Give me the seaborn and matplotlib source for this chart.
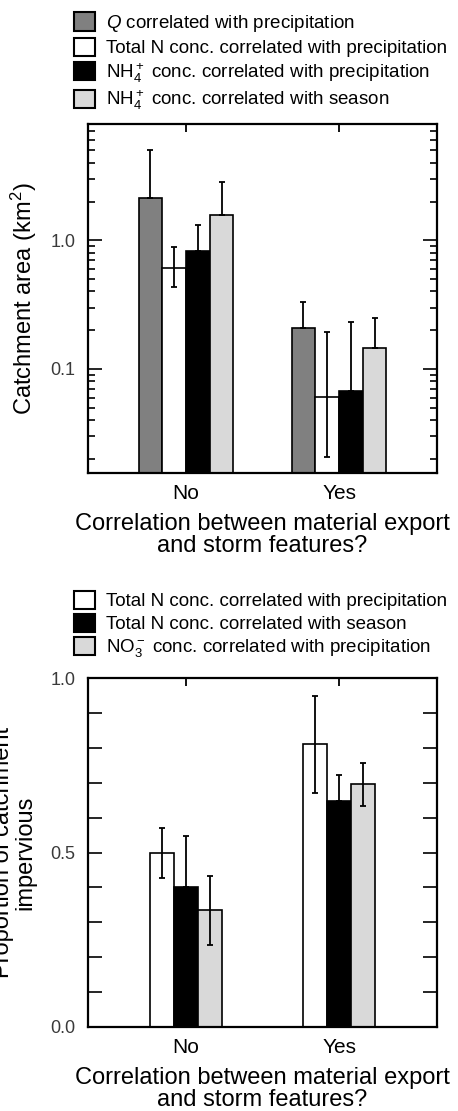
import numpy as np
import pandas as pd
import matplotlib
matplotlib.use("Agg")
import matplotlib.pyplot as plt
from matplotlib.patches import Patch
from matplotlib.ticker import FixedLocator, FixedFormatter, LogLocator, NullFormatter, MultipleLocator
import seaborn as sns

# ---------------------------------------------------------------- data
groups = ["No", "Yes"]

# Panel A: catchment area (km²) – bar value, whisker low end, whisker high end
area_labels = [
    r"$Q$ correlated with precipitation",
    "Total N conc. correlated with precipitation",
    r"NH$_4^+$ conc. correlated with precipitation",
    r"NH$_4^+$ conc. correlated with season",
]
area_q = [2.12, 0.208]
area_q_lo = [2.12, 0.208]
area_q_hi = [5.0, 0.334]

area_tn = [0.613, 0.061]
area_tn_lo = [0.43, 0.0206]
area_tn_hi = [0.89, 0.194]

area_nh4_precip = [0.82, 0.067]
area_nh4_precip_lo = [0.82, 0.067]
area_nh4_precip_hi = [1.31, 0.23]

area_nh4_season = [1.58, 0.146]
area_nh4_season_lo = [1.58, 0.146]
area_nh4_season_hi = [2.85, 0.248]

area_colors = ["#808080", "#ffffff", "#000000", "#d9d9d9"]

# Panel B: proportion of catchment impervious
imperv_labels = [
    "Total N conc. correlated with precipitation",
    "Total N conc. correlated with season",
    r"NO$_3^-$ conc. correlated with precipitation",
]
imperv_tn_precip = [0.50, 0.811]
imperv_tn_precip_lo = [0.426, 0.67]
imperv_tn_precip_hi = [0.569, 0.949]

imperv_tn_season = [0.40, 0.648]
imperv_tn_season_lo = [0.40, 0.648]
imperv_tn_season_hi = [0.547, 0.722]

imperv_no3_precip = [0.335, 0.697]
imperv_no3_precip_lo = [0.234, 0.633]
imperv_no3_precip_hi = [0.433, 0.758]

imperv_colors = ["#ffffff", "#000000", "#d9d9d9"]

xlabel_text = "Correlation between material export\nand storm features?"

# ---------------------------------------------------------------- style
sns.set_style("ticks")
plt.rcParams["font.family"] = ["Liberation Sans", "DejaVu Sans"]
plt.rcParams["text.color"] = "black"
plt.rcParams["axes.labelcolor"] = "black"
plt.rcParams["mathtext.fontset"] = "custom"
plt.rcParams["mathtext.rm"] = "Liberation Sans"
plt.rcParams["mathtext.it"] = "Liberation Sans:italic"
plt.rcParams["mathtext.bf"] = "Liberation Sans:bold"

W, H = 458, 1111
fig = plt.figure(figsize=(W / 100, H / 100), dpi=100)

def px_axes(left, top, right, bottom):
    return fig.add_axes([left / W, 1 - bottom / H, (right - left) / W, (bottom - top) / H])

ax_top = px_axes(88, 124, 437, 472.5)
ax_bot = px_axes(88, 678.3, 437, 1026.7)


def long_frame(labels, series):
    rows = []
    for lab, vals in zip(labels, series):
        for g, v in zip(groups, vals):
            rows.append({"group": g, "series": lab, "value": v})
    return pd.DataFrame(rows)


def draw_bars(ax, labels, series, lows, highs, colors, width):
    df = long_frame(labels, series)
    sns.barplot(data=df, x="group", y="value", hue="series", order=groups,
                hue_order=labels, palette=colors, width=width, errorbar=None,
                edgecolor="black", linewidth=1.2, saturation=1, legend=False, ax=ax)
    for cont, lo, hi in zip(ax.containers, lows, highs):
        for bar, l, h in zip(cont, lo, hi):
            x = bar.get_x() + bar.get_width() / 2
            y = bar.get_height()
            ax.errorbar(x, y, yerr=[[y - l], [h - y]], fmt="none", ecolor="black",
                        elinewidth=1.3, capsize=2.0, capthick=1.3, zorder=5)


def style_axes(ax):
    for s in ax.spines.values():
        s.set_visible(True)
        s.set_linewidth(1.6)
        s.set_color("black")
    ax.set_xlim(-0.64, 1.64)
    ax.tick_params(axis="x", which="both", direction="in", top=True, bottom=False,
                   length=6, width=1.3, labelsize=15, pad=8, colors="black")
    ax.tick_params(axis="y", which="both", direction="in", left=True, right=True,
                   width=1.2, labelsize=13, pad=9, color="black", labelcolor="#3a3a3a")
    ax.set_xlabel(xlabel_text, fontsize=17, linespacing=1.0, va="center", color="black")
    ax.xaxis.set_label_coords(0.5, -0.180)


# ---------------------------------------------------------------- panel A
draw_bars(ax_top, area_labels,
          [area_q, area_tn, area_nh4_precip, area_nh4_season],
          [area_q_lo, area_tn_lo, area_nh4_precip_lo, area_nh4_season_lo],
          [area_q_hi, area_tn_hi, area_nh4_precip_hi, area_nh4_season_hi],
          area_colors, 0.62)
ax_top.set_yscale("log")
ax_top.set_ylim(0.0157, 8)
ax_top.yaxis.set_major_locator(FixedLocator([0.1, 1.0]))
ax_top.yaxis.set_major_formatter(FixedFormatter(["0.1", "1.0"]))
ax_top.yaxis.set_minor_locator(LogLocator(base=10, subs=np.arange(2, 10)))
ax_top.yaxis.set_minor_formatter(NullFormatter())
style_axes(ax_top)
ax_top.tick_params(axis="y", which="major", length=10)
ax_top.tick_params(axis="y", which="minor", length=5)
ax_top.set_ylabel("Catchment area (km$^2$)", fontsize=17, va="center", color="black")
ax_top.yaxis.set_label_coords(-0.183, 0.5)

# ---------------------------------------------------------------- panel B
draw_bars(ax_bot, imperv_labels,
          [imperv_tn_precip, imperv_tn_season, imperv_no3_precip],
          [imperv_tn_precip_lo, imperv_tn_season_lo, imperv_no3_precip_lo],
          [imperv_tn_precip_hi, imperv_tn_season_hi, imperv_no3_precip_hi],
          imperv_colors, 0.47)
ax_bot.set_ylim(0, 1.0)
ax_bot.yaxis.set_major_locator(FixedLocator([0.0, 0.5, 1.0]))
ax_bot.yaxis.set_major_formatter(FixedFormatter(["0.0", "0.5", "1.0"]))
ax_bot.yaxis.set_minor_locator(MultipleLocator(0.1))
style_axes(ax_bot)
ax_bot.tick_params(axis="y", which="both", length=10)
ax_bot.set_ylabel("Proportion of catchment\nimpervious", fontsize=17,
                  linespacing=1.0, va="center", color="black")
ax_bot.yaxis.set_label_coords(-0.212, 0.5)

# ---------------------------------------------------------------- legends
def add_legend(labels, colors, x_px, y_px):
    handles = [Patch(facecolor=c, edgecolor="black", linewidth=1.5) for c in colors]
    fig.legend(handles, labels, loc="upper left", bbox_to_anchor=(x_px / W, 1 - y_px / H),
               frameon=False, fontsize=13.5, handlelength=1.12, handleheight=1.12,
               labelspacing=0.2, handletextpad=0.6, borderpad=0, borderaxespad=0,
               labelcolor="black")

add_legend(area_labels, area_colors, 73.5, 12.5)
add_legend(imperv_labels, imperv_colors, 73.5, 590.5)

fig.savefig("out.png", dpi=100)
